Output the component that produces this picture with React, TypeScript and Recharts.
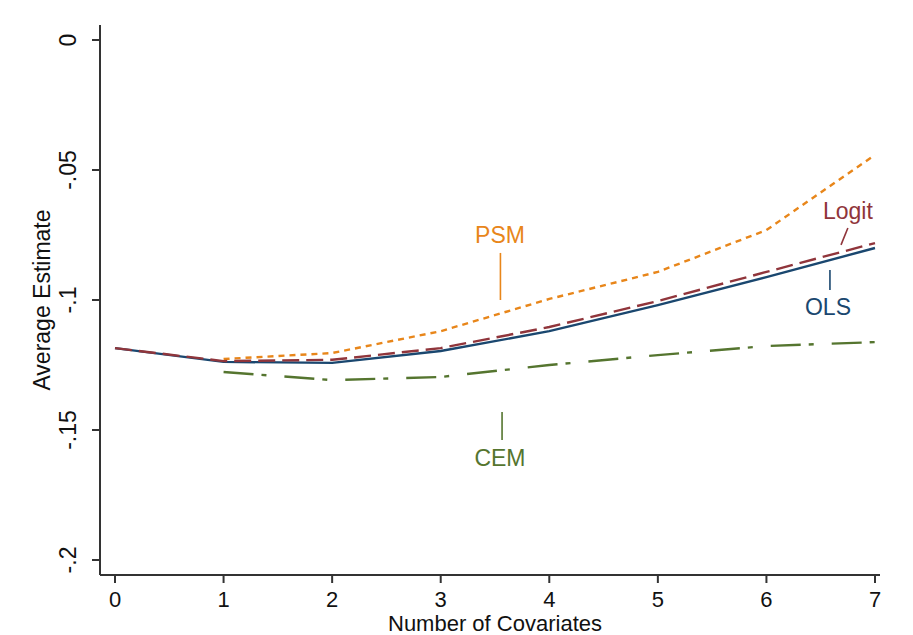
import {
  LineChart,
  Line,
  XAxis,
  YAxis,
  ReferenceLine,
  ReferenceDot,
} from "recharts";

const covariates = [0, 1, 2, 3, 4, 5, 6, 7];
const olsValues = [-0.1185, -0.1238, -0.1242, -0.1196, -0.112, -0.102, -0.0912, -0.08];
const logitValues = [-0.1185, -0.1235, -0.123, -0.1185, -0.1104, -0.1004, -0.0892, -0.0781];
const psmValues = [null, -0.1227, -0.1204, -0.112, -0.0996, -0.0892, -0.0731, -0.0442];
const cemValues = [null, -0.1277, -0.1308, -0.1296, -0.125, -0.1212, -0.1177, -0.1162];
const yTicks = [0, -0.05, -0.1, -0.15, -0.2];
const yTickLabels = ["0", "-.05", "-.1", "-.15", "-.2"];

const NAVY = "#1a476f";
const MAROON = "#90353b";
const ORANGE = "#e8861a";
const GREEN = "#55752f";
const FONT = "'Liberation Sans', Arial, sans-serif";

const data = covariates.map((x, i) => ({
  x,
  ols: olsValues[i],
  logit: logitValues[i],
  psm: psmValues[i],
  cem: cemValues[i],
}));

function YTick(props: any) {
  const { x, y, payload } = props;
  const idx = yTicks.indexOf(payload.value);
  const label = idx >= 0 ? yTickLabels[idx] : String(payload.value);
  return (
    <text
      x={x - 22}
      y={y}
      transform={`rotate(-90, ${x - 22}, ${y})`}
      textAnchor="middle"
      dominantBaseline="central"
      fontFamily={FONT}
      fontSize={23}
      fill="#111"
    >
      {label}
    </text>
  );
}

function XTick(props: any) {
  const { x, y, payload } = props;
  return (
    <text
      x={x}
      y={y + 14}
      textAnchor="middle"
      dominantBaseline="central"
      fontFamily={FONT}
      fontSize={22}
      fill="#111"
    >
      {payload.value}
    </text>
  );
}

function Tag(color: string, text: string) {
  return (props: any) => {
    const { viewBox } = props;
    const cx = viewBox.x + (viewBox.width || 0) / 2;
    const cy = viewBox.y + (viewBox.height || 0) / 2;
    return (
      <text
        x={cx}
        y={cy}
        textAnchor="middle"
        dominantBaseline="central"
        fontFamily={FONT}
        fontSize={23}
        fill={color}
      >
        {text}
      </text>
    );
  };
}

export default function App() {
  return (
    <div style={{ position: "absolute", left: 0, top: 0, width: 913, height: 635, background: "#fff" }}>
      <LineChart
        width={913}
        height={635}
        data={data}
        margin={{ top: 25, right: 33, bottom: 30, left: 40 }}
      >
        <XAxis
          dataKey="x"
          type="number"
          domain={[0, 7]}
          ticks={covariates}
          padding={{ left: 15, right: 5 }}
          stroke="#333"
          strokeWidth={2}
          tickSize={8}
          tick={<XTick />}
          height={30}
          interval={0}
        />
        <YAxis
          type="number"
          domain={[-0.2, 0]}
          ticks={yTicks}
          padding={{ top: 15, bottom: 15 }}
          stroke="#333"
          strokeWidth={2}
          tickSize={8}
          tick={<YTick />}
          width={60}
          interval={0}
        />
        <Line
          dataKey="cem"
          stroke={GREEN}
          strokeWidth={2.4}
          strokeDasharray="30 8 5 18"
          dot={false}
          isAnimationActive={false}
        />
        <Line
          dataKey="psm"
          stroke={ORANGE}
          strokeWidth={2.4}
          strokeDasharray="6 5"
          dot={false}
          isAnimationActive={false}
        />
        <Line
          dataKey="ols"
          stroke={NAVY}
          strokeWidth={2.4}
          dot={false}
          isAnimationActive={false}
        />
        <Line
          dataKey="logit"
          stroke={MAROON}
          strokeWidth={2.4}
          strokeDasharray="17 7"
          dot={false}
          isAnimationActive={false}
        />
        <ReferenceLine segment={[{ x: 3.55, y: -0.0819 }, { x: 3.55, y: -0.1 }]} stroke={ORANGE} strokeWidth={1.6} />
        <ReferenceLine segment={[{ x: 3.565, y: -0.1431 }, { x: 3.565, y: -0.1538 }]} stroke={GREEN} strokeWidth={1.6} />
        <ReferenceLine segment={[{ x: 6.75, y: -0.0723 }, { x: 6.687, y: -0.0788 }]} stroke={MAROON} strokeWidth={1.6} />
        <ReferenceLine segment={[{ x: 6.585, y: -0.0885 }, { x: 6.585, y: -0.0962 }]} stroke={NAVY} strokeWidth={1.6} />
        <ReferenceDot x={3.546} y={-0.075} r={0} fill="none" stroke="none" label={Tag(ORANGE, "PSM")} />
        <ReferenceDot x={3.546} y={-0.1608} r={0} fill="none" stroke="none" label={Tag(GREEN, "CEM")} />
        <ReferenceDot x={6.75} y={-0.0658} r={0} fill="none" stroke="none" label={Tag(MAROON, "Logit")} />
        <ReferenceDot x={6.567} y={-0.1027} r={0} fill="none" stroke="none" label={Tag(NAVY, "OLS")} />
        <text
          x={42}
          y={300}
          transform="rotate(-90, 42, 300)"
          textAnchor="middle"
          dominantBaseline="central"
          fontFamily={FONT}
          fontSize={23}
          fill="#111"
        >
          Average Estimate
        </text>
        <text
          x={495}
          y={623}
          textAnchor="middle"
          dominantBaseline="central"
          fontFamily={FONT}
          fontSize={22}
          fill="#111"
        >
          Number of Covariates
        </text>
      </LineChart>
    </div>
  );
}
